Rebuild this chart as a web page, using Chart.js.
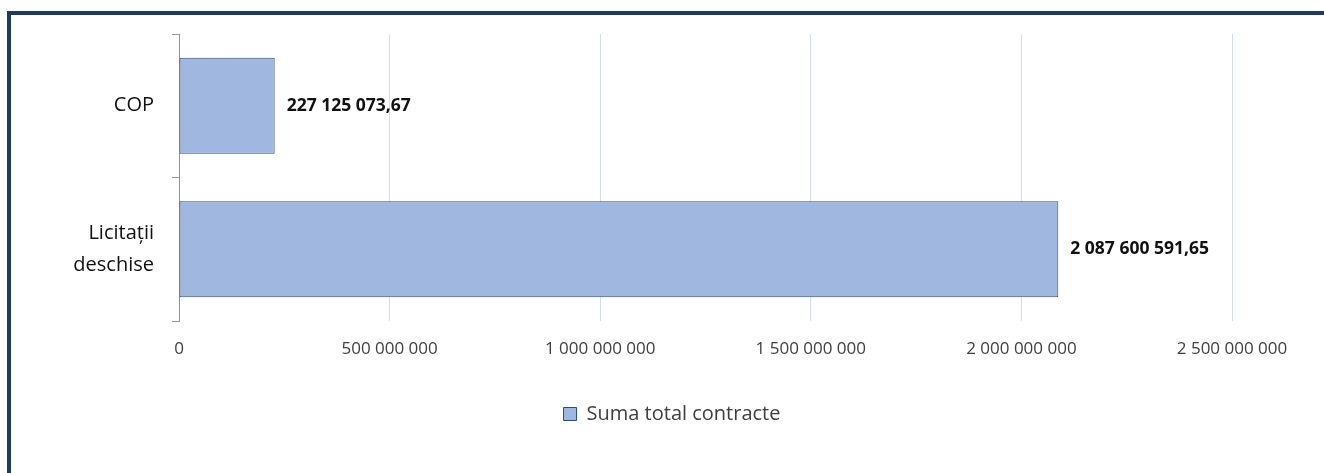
<!DOCTYPE html>
<html>
<head>
<meta charset="utf-8">
<script src="https://cdn.jsdelivr.net/npm/chart.js@4"></script>
<style>
    html, body { margin: 0; padding: 0; background: #fff; }
    #wrap { position: relative; width: 1324px; height: 473px; overflow: hidden; }
    #frame { position: absolute; left: 7px; top: 11px; right: -10px; bottom: -10px;
             border-left: 4px solid #1f3864; border-top: 4px solid #1f3864; }
    canvas { position: absolute; left: 0; top: 0; }
</style>
</head>
<body>
<div id="wrap">
    <div id="frame"></div>
    <canvas id="chart" width="1324" height="473"></canvas>
</div>
<script>
// Données
const categories = ['COP', ['Licitații', 'deschise']];
const seriesName = 'Suma total contracte';
const sumaContracte = [227125073.67, 2087600591.65];
const xTicks = [0, 500000000, 1000000000, 1500000000, 2000000000, 2500000000];

const fontFamily = "'Open Sans', 'Noto Sans', sans-serif";

// format 2 087 600 591,65
function fmt(v, dec) {
    const parts = v.toFixed(dec).split('.');
    const ent = parts[0].replace(/\B(?=(\d{3})+(?!\d))/g, ' ');
    return parts[1] ? ent + ',' + parts[1] : ent;
}

const valueLabels = {
    id: 'valueLabels',
    afterDatasetsDraw(chart) {
        const ctx = chart.ctx;
        const meta = chart.getDatasetMeta(0);
        ctx.save();
        ctx.font = 'bold 17.5px ' + fontFamily;
        ctx.fillStyle = '#111';
        ctx.textAlign = 'left';
        ctx.textBaseline = 'middle';
        meta.data.forEach((bar, i) => {
            ctx.fillText(fmt(sumaContracte[i], 2), bar.x + 12, bar.y);
        });
        ctx.restore();
    }
};

// décale la légende pour la centrer comme dans l'original
const legendShift = {
    id: 'legendShift',
    afterLayout(chart) {
        if (chart.legend) {
            chart.legend.left += 46;
            chart.legend.right += 46;
        }
    }
};

new Chart(document.getElementById('chart'), {
    type: 'bar',
    data: {
        labels: categories,
        datasets: [{
            label: seriesName,
            data: sumaContracte,
            backgroundColor: '#a0b8e0',
            borderColor: '#2e4a7a',
            borderWidth: 1,
            borderSkipped: false,
            categoryPercentage: 0.67,
            barPercentage: 1
        }]
    },
    options: {
        indexAxis: 'y',
        responsive: false,
        animation: false,
        layout: { padding: { left: 20, right: 92, top: 34, bottom: 39 } },
        scales: {
            x: {
                min: 0,
                max: 2500000000,
                afterBuildTicks: (scale) => {
                    scale.ticks = xTicks.map(v => ({ value: v }));
                },
                grid: { color: '#d3ddef', lineWidth: 1, drawTicks: false },
                border: { display: false },
                ticks: {
                    padding: 18,
                    color: '#404040',
                    font: { family: fontFamily, size: 17 },
                    callback: (v) => fmt(v, 0)
                },
                afterFit: (scale) => { scale.height = 73; }
            },
            y: {
                grid: { display: true, drawOnChartArea: false, drawTicks: true, tickLength: 7, color: '#8a96ab' },
                border: { display: true, color: '#8a96ab', width: 1 },
                ticks: {
                    padding: 18,
                    color: '#111',
                    font: { family: fontFamily, size: 20, lineHeight: 1.6 }
                },
                afterFit: (scale) => {
                    scale.width = 159;
                    scale.paddingTop = 0;
                    scale.paddingBottom = 0;
                }
            }
        },
        plugins: {
            legend: {
                position: 'bottom',
                labels: {
                    boxWidth: 13,
                    boxHeight: 13,
                    padding: 10,
                    color: '#404040',
                    font: { family: fontFamily, size: 20 }
                }
            },
            tooltip: { enabled: false }
        }
    },
    plugins: [valueLabels, legendShift]
});
</script>
</body>
</html>
